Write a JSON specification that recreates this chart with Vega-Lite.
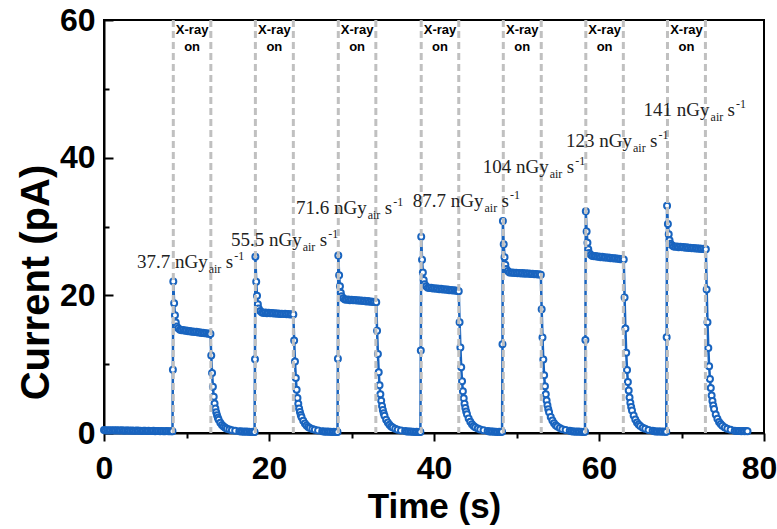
{
"$schema": "https://vega.github.io/schema/vega-lite/v6.json",
"width": 660, "height": 413,
"autosize": {"type": "none"},
"padding": {"left": 104, "top": 20, "right": 13, "bottom": 96},
"background": "white",
"config": {
 "view": {"stroke": "black", "strokeWidth": 2},
 "axis": {"grid": false, "domainColor": "black", "domainWidth": 2, "tickColor": "black", "tickWidth": 2,
  "labelFont": "Liberation Sans", "labelFontWeight": "bold", "labelFontSize": 32, "labelColor": "black",
  "titleFont": "Liberation Sans", "titleFontWeight": "bold", "titleColor": "black",
  "labelOverlap": false, "labelFlush": false}
},
"datasets": {
 "curve": [
{"t":0,"i":0.42},{"t":0.2,"i":0.38},{"t":0.4,"i":0.4},{"t":0.6,"i":0.36},{"t":0.8,"i":0.41},{"t":1,"i":0.37},{"t":1.2,"i":0.39},{"t":1.4,"i":0.35},{"t":1.6,"i":0.4},{"t":1.8,"i":0.38},{"t":2,"i":0.36},{"t":2.2,"i":0.39},{"t":2.4,"i":0.34},{"t":2.6,"i":0.37},{"t":2.8,"i":0.35},{"t":3,"i":0.38},{"t":3.2,"i":0.33},{"t":3.4,"i":0.36},{"t":3.6,"i":0.34},{"t":3.8,"i":0.31},{"t":4,"i":0.35},{"t":4.2,"i":0.32},{"t":4.4,"i":0.34},{"t":4.6,"i":0.3},{"t":4.8,"i":0.33},{"t":5,"i":0.31},{"t":5.2,"i":0.29},{"t":5.4,"i":0.32},{"t":5.6,"i":0.3},{"t":5.8,"i":0.28},{"t":6,"i":0.31},{"t":6.2,"i":0.27},{"t":6.4,"i":0.3},{"t":6.6,"i":0.28},{"t":6.8,"i":0.26},{"t":7,"i":0.29},{"t":7.2,"i":0.27},{"t":7.4,"i":0.25},{"t":7.6,"i":0.28},{"t":7.8,"i":0.26},{"t":8,"i":0.24},{"t":8.2,"i":0.27},{"t":8.3,"i":0.26},
{"t":8.35,"i":9.2},{"t":8.4,"i":22.0},{"t":8.5,"i":18.85},{"t":8.6,"i":17.1},{"t":8.7,"i":16.05},{"t":8.8,"i":15.49},{"t":9.0,"i":15.21},{"t":9.2,"i":15.0},{"t":9.4,"i":14.92},{"t":9.6,"i":14.95},{"t":9.8,"i":14.85},{"t":10,"i":14.88},{"t":10.2,"i":14.78},{"t":10.4,"i":14.82},{"t":10.6,"i":14.72},{"t":10.8,"i":14.75},{"t":11,"i":14.66},{"t":11.2,"i":14.7},{"t":11.4,"i":14.6},{"t":11.6,"i":14.63},{"t":11.8,"i":14.53},{"t":12,"i":14.57},{"t":12.2,"i":14.48},{"t":12.4,"i":14.5},{"t":12.6,"i":14.42},{"t":12.8,"i":14.45},{"t":12.9,"i":14.4},
{"t":13.0,"i":11.27},{"t":13.1,"i":8.7},{"t":13.2,"i":6.71},{"t":13.3,"i":5.28},{"t":13.4,"i":4.28},{"t":13.5,"i":3.57},{"t":13.6,"i":3.0},{"t":13.7,"i":2.57},{"t":13.8,"i":2.22},{"t":13.9,"i":1.93},{"t":14.1,"i":1.5},{"t":14.3,"i":1.18},{"t":14.5,"i":0.93},{"t":14.7,"i":0.76},{"t":14.9,"i":0.63},{"t":15.2,"i":0.51},{"t":15.5,"i":0.41},{"t":15.9,"i":0.32},{"t":16.4,"i":0.25},
{"t":16.6,"i":0.22},{"t":16.8,"i":0.2},{"t":17,"i":0.18},{"t":17.2,"i":0.21},{"t":17.4,"i":0.17},{"t":17.6,"i":0.19},{"t":17.8,"i":0.16},{"t":18,"i":0.18},{"t":18.2,"i":0.15},{"t":18.25,"i":0.16},
{"t":18.3,"i":10.7},{"t":18.35,"i":25.6},{"t":18.45,"i":21.96},{"t":18.55,"i":19.93},{"t":18.65,"i":18.72},{"t":18.75,"i":18.07},{"t":18.95,"i":17.74},{"t":19.15,"i":17.5},{"t":19.35,"i":17.45},{"t":19.55,"i":17.5},{"t":19.75,"i":17.4},{"t":19.95,"i":17.46},{"t":20.15,"i":17.38},{"t":20.35,"i":17.42},{"t":20.55,"i":17.35},{"t":20.75,"i":17.4},{"t":20.95,"i":17.32},{"t":21.15,"i":17.37},{"t":21.35,"i":17.3},{"t":21.55,"i":17.34},{"t":21.75,"i":17.27},{"t":21.95,"i":17.31},{"t":22.15,"i":17.24},{"t":22.35,"i":17.28},{"t":22.55,"i":17.22},{"t":22.75,"i":17.25},{"t":22.95,"i":17.2},
{"t":23.05,"i":13.45},{"t":23.15,"i":10.38},{"t":23.25,"i":7.99},{"t":23.35,"i":6.29},{"t":23.45,"i":5.09},{"t":23.55,"i":4.24},{"t":23.65,"i":3.56},{"t":23.75,"i":3.05},{"t":23.85,"i":2.62},{"t":23.95,"i":2.28},{"t":24.15,"i":1.77},{"t":24.35,"i":1.38},{"t":24.55,"i":1.09},{"t":24.75,"i":0.88},{"t":24.95,"i":0.73},{"t":25.25,"i":0.58},{"t":25.55,"i":0.46},{"t":25.95,"i":0.35},{"t":26.45,"i":0.27},
{"t":26.65,"i":0.22},{"t":26.85,"i":0.19},{"t":27.05,"i":0.2},{"t":27.25,"i":0.17},{"t":27.45,"i":0.19},{"t":27.65,"i":0.16},{"t":27.85,"i":0.18},{"t":28.05,"i":0.15},{"t":28.25,"i":0.17},{"t":28.3,"i":0.16},
{"t":28.35,"i":10.8},{"t":28.4,"i":25.8},{"t":28.5,"i":22.92},{"t":28.6,"i":21.32},{"t":28.7,"i":20.36},{"t":28.8,"i":19.85},{"t":29,"i":19.59},{"t":29.2,"i":19.4},{"t":29.4,"i":19.36},{"t":29.6,"i":19.4},{"t":29.8,"i":19.3},{"t":30,"i":19.35},{"t":30.2,"i":19.27},{"t":30.4,"i":19.32},{"t":30.6,"i":19.24},{"t":30.8,"i":19.28},{"t":31,"i":19.2},{"t":31.2,"i":19.25},{"t":31.4,"i":19.16},{"t":31.6,"i":19.2},{"t":31.8,"i":19.12},{"t":32,"i":19.16},{"t":32.2,"i":19.08},{"t":32.4,"i":19.12},{"t":32.6,"i":19.04},{"t":32.8,"i":19.07},{"t":33,"i":19.0},
{"t":33.1,"i":14.85},{"t":33.2,"i":11.46},{"t":33.3,"i":8.82},{"t":33.4,"i":6.94},{"t":33.5,"i":5.62},{"t":33.6,"i":4.67},{"t":33.7,"i":3.92},{"t":33.8,"i":3.35},{"t":33.9,"i":2.88},{"t":34,"i":2.51},{"t":34.2,"i":1.94},{"t":34.4,"i":1.51},{"t":34.6,"i":1.19},{"t":34.8,"i":0.96},{"t":35,"i":0.79},{"t":35.3,"i":0.62},{"t":35.6,"i":0.49},{"t":36,"i":0.38},{"t":36.5,"i":0.28},
{"t":36.7,"i":0.23},{"t":36.9,"i":0.2},{"t":37.1,"i":0.21},{"t":37.3,"i":0.18},{"t":37.5,"i":0.19},{"t":37.7,"i":0.16},{"t":37.9,"i":0.18},{"t":38.1,"i":0.15},{"t":38.3,"i":0.17},{"t":38.35,"i":0.16},
{"t":38.4,"i":12.0},{"t":38.45,"i":28.5},{"t":38.55,"i":25.17},{"t":38.65,"i":23.32},{"t":38.75,"i":22.21},{"t":38.85,"i":21.62},{"t":39.05,"i":21.32},{"t":39.25,"i":21.1},{"t":39.45,"i":21.06},{"t":39.65,"i":21.1},{"t":39.85,"i":21.0},{"t":40.05,"i":21.04},{"t":40.25,"i":20.95},{"t":40.45,"i":20.99},{"t":40.65,"i":20.9},{"t":40.85,"i":20.94},{"t":41.05,"i":20.85},{"t":41.25,"i":20.89},{"t":41.45,"i":20.8},{"t":41.65,"i":20.84},{"t":41.85,"i":20.75},{"t":42.05,"i":20.79},{"t":42.25,"i":20.7},{"t":42.45,"i":20.74},{"t":42.65,"i":20.65},{"t":42.85,"i":20.68},{"t":43,"i":20.6},
{"t":43.1,"i":16.1},{"t":43.2,"i":12.42},{"t":43.3,"i":9.56},{"t":43.4,"i":7.51},{"t":43.5,"i":6.08},{"t":43.6,"i":5.06},{"t":43.7,"i":4.24},{"t":43.8,"i":3.63},{"t":43.9,"i":3.12},{"t":44,"i":2.71},{"t":44.2,"i":2.09},{"t":44.4,"i":1.62},{"t":44.6,"i":1.27},{"t":44.8,"i":1.03},{"t":45,"i":0.85},{"t":45.3,"i":0.66},{"t":45.6,"i":0.52},{"t":46,"i":0.4},{"t":46.5,"i":0.29},
{"t":46.7,"i":0.23},{"t":46.9,"i":0.2},{"t":47.1,"i":0.21},{"t":47.3,"i":0.18},{"t":47.5,"i":0.19},{"t":47.7,"i":0.16},{"t":47.9,"i":0.18},{"t":48.1,"i":0.15},{"t":48.25,"i":0.17},
{"t":48.3,"i":12.9},{"t":48.35,"i":30.8},{"t":48.45,"i":27.43},{"t":48.55,"i":25.55},{"t":48.65,"i":24.43},{"t":48.75,"i":23.83},{"t":48.95,"i":23.53},{"t":49.15,"i":23.3},{"t":49.35,"i":23.28},{"t":49.55,"i":23.32},{"t":49.75,"i":23.24},{"t":49.95,"i":23.29},{"t":50.15,"i":23.21},{"t":50.35,"i":23.26},{"t":50.55,"i":23.18},{"t":50.75,"i":23.23},{"t":50.95,"i":23.15},{"t":51.15,"i":23.2},{"t":51.35,"i":23.12},{"t":51.55,"i":23.16},{"t":51.75,"i":23.09},{"t":51.95,"i":23.13},{"t":52.15,"i":23.06},{"t":52.35,"i":23.1},{"t":52.55,"i":23.03},{"t":52.75,"i":23.06},{"t":52.95,"i":23.0},
{"t":53.05,"i":17.97},{"t":53.15,"i":13.86},{"t":53.25,"i":10.66},{"t":53.35,"i":8.38},{"t":53.45,"i":6.78},{"t":53.55,"i":5.63},{"t":53.65,"i":4.72},{"t":53.75,"i":4.03},{"t":53.85,"i":3.46},{"t":53.95,"i":3.01},{"t":54.15,"i":2.32},{"t":54.35,"i":1.8},{"t":54.55,"i":1.41},{"t":54.75,"i":1.13},{"t":54.95,"i":0.93},{"t":55.25,"i":0.72},{"t":55.55,"i":0.56},{"t":55.95,"i":0.42},{"t":56.45,"i":0.31},
{"t":56.65,"i":0.24},{"t":56.85,"i":0.21},{"t":57.05,"i":0.22},{"t":57.25,"i":0.19},{"t":57.45,"i":0.2},{"t":57.65,"i":0.17},{"t":57.85,"i":0.19},{"t":58.05,"i":0.16},{"t":58.25,"i":0.18},{"t":58.3,"i":0.17},
{"t":58.35,"i":13.5},{"t":58.4,"i":32.2},{"t":58.5,"i":29.28},{"t":58.6,"i":27.65},{"t":58.7,"i":26.68},{"t":58.8,"i":26.16},{"t":59,"i":25.9},{"t":59.2,"i":25.7},{"t":59.4,"i":25.66},{"t":59.6,"i":25.7},{"t":59.8,"i":25.6},{"t":60,"i":25.64},{"t":60.2,"i":25.55},{"t":60.4,"i":25.59},{"t":60.6,"i":25.5},{"t":60.8,"i":25.54},{"t":61,"i":25.45},{"t":61.2,"i":25.49},{"t":61.4,"i":25.4},{"t":61.6,"i":25.44},{"t":61.8,"i":25.35},{"t":62,"i":25.39},{"t":62.2,"i":25.3},{"t":62.4,"i":25.33},{"t":62.6,"i":25.25},{"t":62.8,"i":25.28},{"t":63,"i":25.2},
{"t":63.1,"i":19.69},{"t":63.2,"i":15.18},{"t":63.3,"i":11.67},{"t":63.4,"i":9.17},{"t":63.5,"i":7.41},{"t":63.6,"i":6.16},{"t":63.7,"i":5.16},{"t":63.8,"i":4.41},{"t":63.9,"i":3.78},{"t":64,"i":3.28},{"t":64.2,"i":2.53},{"t":64.4,"i":1.95},{"t":64.6,"i":1.53},{"t":64.8,"i":1.23},{"t":65,"i":1.0},{"t":65.3,"i":0.78},{"t":65.6,"i":0.6},{"t":66,"i":0.45},{"t":66.5,"i":0.33},
{"t":66.7,"i":0.25},{"t":66.9,"i":0.22},{"t":67.1,"i":0.23},{"t":67.3,"i":0.2},{"t":67.5,"i":0.21},{"t":67.7,"i":0.18},{"t":67.9,"i":0.2},{"t":68.1,"i":0.17},{"t":68.15,"i":0.18},
{"t":68.2,"i":13.9},{"t":68.25,"i":33.0},{"t":68.35,"i":30.35},{"t":68.45,"i":28.87},{"t":68.55,"i":27.99},{"t":68.65,"i":27.51},{"t":68.85,"i":27.28},{"t":69.05,"i":27.1},{"t":69.25,"i":27.06},{"t":69.45,"i":27.1},{"t":69.65,"i":27.0},{"t":69.85,"i":27.05},{"t":70.05,"i":26.97},{"t":70.25,"i":27.01},{"t":70.45,"i":26.93},{"t":70.65,"i":26.97},{"t":70.85,"i":26.89},{"t":71.05,"i":26.93},{"t":71.25,"i":26.85},{"t":71.45,"i":26.89},{"t":71.65,"i":26.81},{"t":71.85,"i":26.85},{"t":72.05,"i":26.77},{"t":72.25,"i":26.8},{"t":72.45,"i":26.74},{"t":72.65,"i":26.77},{"t":72.85,"i":26.71},{"t":72.95,"i":26.7},
{"t":73.05,"i":20.86},{"t":73.15,"i":16.08},{"t":73.25,"i":12.36},{"t":73.35,"i":9.71},{"t":73.45,"i":7.85},{"t":73.55,"i":6.52},{"t":73.65,"i":5.46},{"t":73.75,"i":4.66},{"t":73.85,"i":4.0},{"t":73.95,"i":3.47},{"t":74.15,"i":2.67},{"t":74.35,"i":2.06},{"t":74.55,"i":1.61},{"t":74.75,"i":1.29},{"t":74.95,"i":1.05},{"t":75.25,"i":0.81},{"t":75.55,"i":0.63},{"t":75.95,"i":0.47},{"t":76.45,"i":0.34},
{"t":76.65,"i":0.3},{"t":76.85,"i":0.28},{"t":77.05,"i":0.3},{"t":77.25,"i":0.27},{"t":77.45,"i":0.29},{"t":77.65,"i":0.26},{"t":77.85,"i":0.28},{"t":78,"i":0.27}
 ],
 "rules": [{"t":8.4},{"t":12.95},{"t":18.35},{"t":22.95},{"t":28.4},{"t":32.95},{"t":38.45},{"t":43.0},{"t":48.4},{"t":53.0},{"t":58.4},{"t":62.95},{"t":68.3},{"t":72.9}],
 "xray": [{"t":10.68},{"t":20.65},{"t":30.68},{"t":40.73},{"t":50.7},{"t":60.68},{"t":70.6}],
 "doses": [
  {"t":12.57,"i":23.97,"label":"37.7 nGy"},
  {"t":23.96,"i":27.1,"label":"55.5 nGy"},
  {"t":31.84,"i":31.8,"label":"71.6 nGy"},
  {"t":46.0,"i":32.8,"label":"87.7 nGy"},
  {"t":53.9,"i":37.8,"label":"104 nGy"},
  {"t":64.0,"i":41.55,"label":"123 nGy"},
  {"t":73.4,"i":46.05,"label":"141 nGy"}
 ]
},
"layer": [
 {"data": {"name": "curve"},
  "mark": {"type": "line", "color": "#1964bf", "strokeWidth": 2.5},
  "encoding": {
   "x": {"field": "t", "type": "quantitative", "scale": {"domain": [0, 80], "nice": false},
    "axis": {"title": "Time (s)", "titleFontSize": 35, "values": [0,10,20,30,40,50,60,70,80],
     "labelExpr": "datum.value % 20 === 0 ? datum.label : ''",
     "tickSize": {"condition": {"test": "datum.value % 20 === 0", "value": 8}, "value": 5},
     "labelOffset": {"condition": {"test": "datum.value === 80", "value": -5}, "value": 0},
     "labelPadding": 12, "titlePadding": 5}},
   "y": {"field": "i", "type": "quantitative", "scale": {"domain": [0, 60], "nice": false},
    "axis": {"title": "Current (pA)", "titleFontSize": 40, "titleY": 262, "values": [0,10,20,30,40,50,60],
     "labelExpr": "datum.value % 20 === 0 ? datum.label : ''",
     "tickSize": {"condition": {"test": "datum.value % 20 === 0", "value": -9}, "value": -5},
     "labelPadding": 18, "titlePadding": 3}}
  }},
 {"data": {"name": "curve"},
  "mark": {"type": "point", "shape": "circle", "filled": false, "fill": "white", "stroke": "#1964bf", "strokeWidth": 2, "size": 36, "opacity": 1},
  "encoding": {"x": {"field": "t", "type": "quantitative"}, "y": {"field": "i", "type": "quantitative"}}},
 {"data": {"name": "rules"},
  "mark": {"type": "rule", "color": "#c0c0c0", "strokeWidth": 3, "strokeDash": [7, 4]},
  "encoding": {"x": {"field": "t", "type": "quantitative"}}},
 {"data": {"name": "xray"},
  "mark": {"type": "text", "font": "Liberation Sans", "fontWeight": "bold", "fontSize": 13, "align": "center", "baseline": "alphabetic", "color": "black"},
  "encoding": {"x": {"field": "t", "type": "quantitative"}, "y": {"datum": 57.9}, "text": {"value": "X-ray"}}},
 {"data": {"name": "xray"},
  "mark": {"type": "text", "font": "Liberation Sans", "fontWeight": "bold", "fontSize": 13, "align": "center", "baseline": "alphabetic", "color": "black"},
  "encoding": {"x": {"field": "t", "type": "quantitative"}, "y": {"datum": 55.45}, "text": {"value": "on"}}},
 {"data": {"name": "doses"},
  "mark": {"type": "text", "font": "Liberation Serif", "fontSize": 19, "align": "right", "baseline": "alphabetic", "color": "#222222"},
  "encoding": {"x": {"field": "t", "type": "quantitative"}, "y": {"field": "i", "type": "quantitative"}, "text": {"field": "label"}}},
 {"data": {"name": "doses"},
  "mark": {"type": "text", "font": "Liberation Serif", "fontSize": 12, "align": "left", "baseline": "alphabetic", "dx": 1, "dy": 5, "color": "#222222"},
  "encoding": {"x": {"field": "t", "type": "quantitative"}, "y": {"field": "i", "type": "quantitative"}, "text": {"value": "air"}}},
 {"data": {"name": "doses"},
  "mark": {"type": "text", "font": "Liberation Serif", "fontSize": 19, "align": "left", "baseline": "alphabetic", "dx": 18, "color": "#222222"},
  "encoding": {"x": {"field": "t", "type": "quantitative"}, "y": {"field": "i", "type": "quantitative"}, "text": {"value": "s"}}},
 {"data": {"name": "doses"},
  "mark": {"type": "text", "font": "Liberation Serif", "fontSize": 12, "align": "left", "baseline": "alphabetic", "dx": 26.5, "dy": -8, "color": "#222222"},
  "encoding": {"x": {"field": "t", "type": "quantitative"}, "y": {"field": "i", "type": "quantitative"}, "text": {"value": "-1"}}}
]
}
